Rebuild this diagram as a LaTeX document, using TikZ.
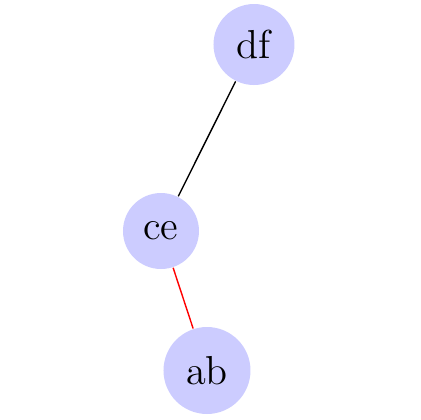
\documentclass[tikz,border=0pt]{standalone}
\begin{document}
\begin{tikzpicture}[x=0.01cm,y=-0.01cm,
  vnode/.style={circle,fill=blue!20,draw=none,inner sep=0pt,font=\fontsize{11.5}{13}\selectfont},
  edge/.style={line width=0.4pt}]
\useasboundingbox (0,0) rectangle (420,420);
\node[vnode,minimum size=81*0.01cm] (df) at (254,44.5) {df};
\node[vnode,minimum size=76*0.01cm] (ce) at (161,231) {ce};
\node[vnode,minimum size=87*0.01cm] (ab) at (207,370.5) {ab};
\draw[edge,black] (df) -- (ce);
\draw[edge,red] (ce) -- (ab);
\end{tikzpicture}
\end{document}
